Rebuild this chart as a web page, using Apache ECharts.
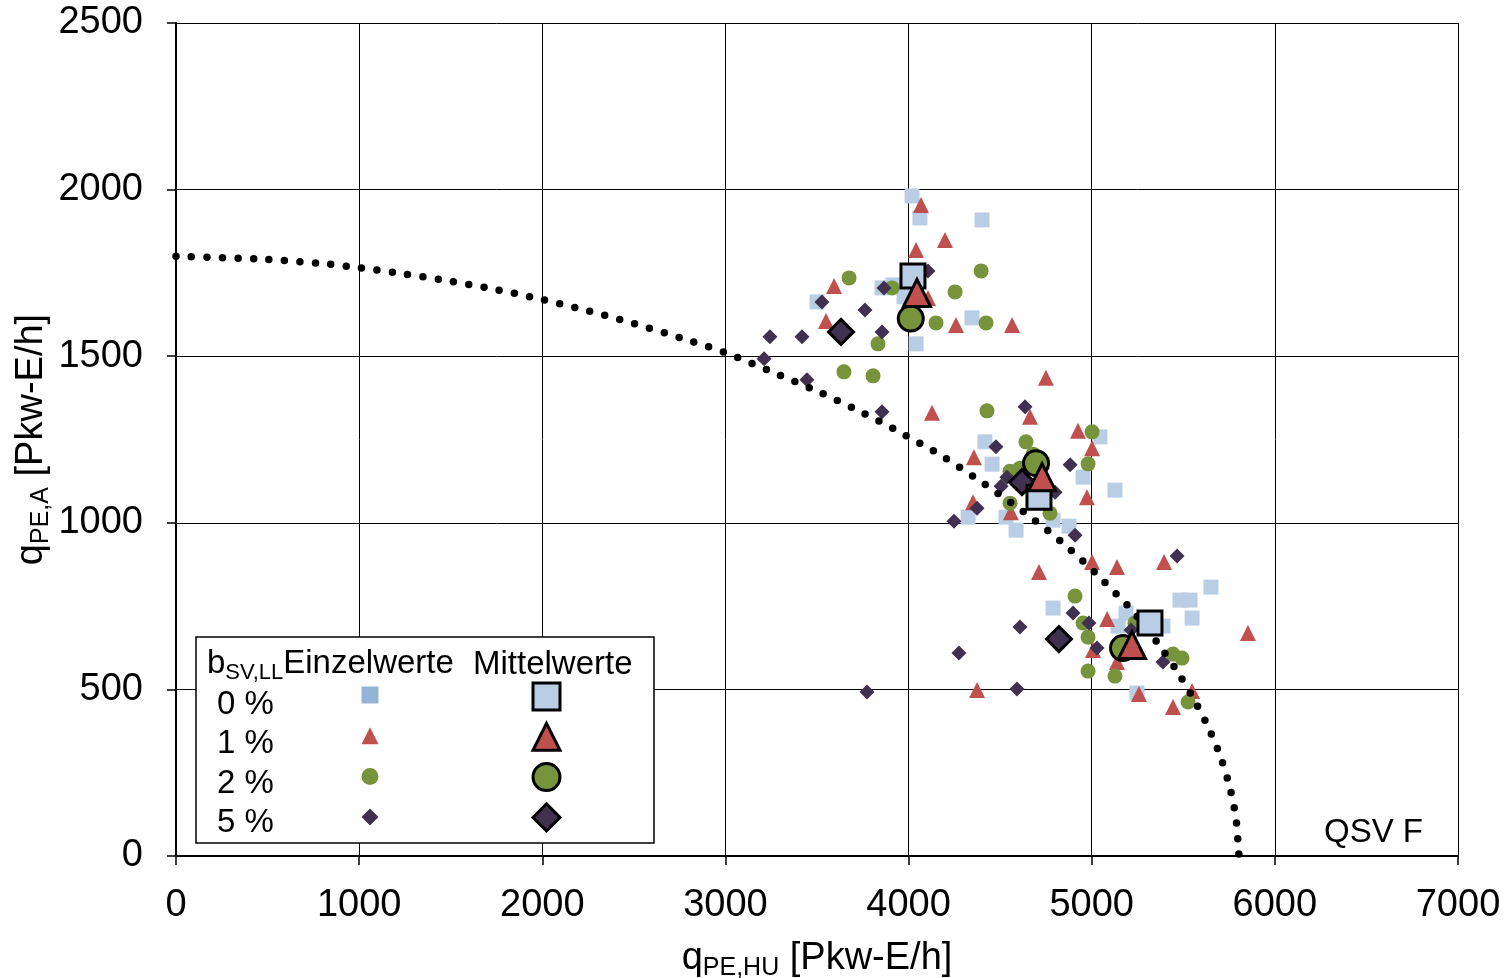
<!DOCTYPE html>
<html>
<head>
<meta charset="utf-8">
<script src="https://cdn.jsdelivr.net/npm/echarts@6/dist/echarts.min.js"></script>
<style>html,body{margin:0;padding:0;background:#fff}#c{width:1505px;height:978px}</style>
</head>
<body>
<div id="c"></div>
<script>
// ---- data ----
const xTicks = [0, 1000, 2000, 3000, 4000, 5000, 6000, 7000];
const yTicks = [0, 500, 1000, 1500, 2000, 2500];
const groupLabels = ['0 %', '1 %', '2 %', '5 %'];

const einzel0 = [[4019,1981],[4062,1915],[4401,1909],[3500,1663],[3855,1705],[3915,1714],[3975,1678],[4346,1615],[4041,1537],
  [5045,1258],[4417,1243],[4456,1176],[4953,1137],[5127,1098],[4325,1017],[4532,1017],[4587,978],[4789,1008],[4876,990],
  [5651,807],[5482,768],[5537,768],[5548,714],[4789,744],[5187,729],[5144,690],[5389,690],[5247,489]];
const einzel1 = [[4068,1954],[4199,1849],[4041,1819],[3593,1711],[3549,1606],[4259,1594],[4565,1594],[4106,1675],[4750,1435],[4128,1330],[4663,1318],
  [4925,1276],[5002,1224],[4357,1197],[4974,1077],[4352,1062],[4559,1032],
  [5002,882],[5138,867],[5395,882],[4712,852],[5084,711],[5853,669],[5007,618],[5138,582],[4374,498],[5258,486],[5548,495],[5444,447]];
const einzel2 = [[3675,1735],[3910,1705],[4396,1756],[4254,1693],[4150,1600],[4423,1600],[3833,1537],[3647,1453],[3806,1441],[4428,1336],
  [5002,1273],[4641,1243],[4980,1177],[4554,1155],[4608,1164],[4680,1206],[4554,1059],[4772,1029],
  [4909,780],[4953,699],[4980,657],[5236,699],[5444,606],[5493,594],[4980,555],[5127,540],[5526,462]];
const einzel5 = [[4106,1756],[3866,1705],[3527,1663],[3762,1639],[3855,1573],[3243,1558],[3418,1558],[3211,1492],[3445,1429],[3855,1333],[4636,1348],
  [4477,1228],[4882,1174],[4537,1137],[4505,1110],[4800,1092],[4374,1044],[4248,1005],[4909,963],
  [5466,900],[4898,729],[4985,699],[4608,687],[5215,678],[5029,624],[5389,582],[4275,609],[4592,501],[3773,492]];

const mittel0 = [[4024,1741],[4712,1077],[5318,699]];
const mittel1 = [[4046,1690],[4729,1137],[5220,633]];
const mittel2 = [[4012,1613],[4696,1179],[5171,624]];
const mittel5 = [[3631,1573],[4619,1122],[4821,651]];

const kurve = [[0,1800],[435,1792],[784,1779],[961,1768],[1221,1749],[1479,1727],[1739,1701],[1993,1671],[2251,1636],[2504,1597],
  [2754,1555],[3003,1510],[3249,1454],[3493,1397],[3729,1336],[3962,1269],[4190,1198],[4410,1118],[4623,1035],[4830,945],
  [5023,848],[5145,780],[5206,746],[5264,708],[5318,669],[5370,632],[5468,553],[5555,473],[5637,386],[5704,296],[5755,204],
  [5788,111],[5802,15],[5804,0]];

// ---- styling ----
const FONT = 'Liberation Sans, Arial, sans-serif';
const C0 = '#b9cde5', C0L = '#95b3d7', C1 = '#c0504d', C2 = '#77933c', C5 = '#403151';

const chart = echarts.init(document.getElementById('c'), null, {renderer: 'canvas'});

function einzelSeries(name, data, symbol, color, size, z) {
  return {name, type: 'scatter', data, symbol, symbolSize: size, z,
    itemStyle: {color, opacity: 1}, emphasis: {disabled: true}, animation: false};
}
function mittelSeries(name, data, symbol, color, size, z) {
  return {name, type: 'scatter', data, symbol, symbolSize: size, z,
    itemStyle: {color, borderColor: '#000', borderWidth: 3, opacity: 1}, emphasis: {disabled: true}, animation: false};
}

const option = {
  backgroundColor: '#fff',
  animation: false,
  grid: {left: 176, right: 47, top: 23, bottom: 122, containLabel: false, outerBoundsMode: 'none'},
  xAxis: {
    type: 'value', min: xTicks[0], max: xTicks[xTicks.length - 1], interval: 1000,
    name: '{a|q}{s|PE,HU}{a| [Pkw-E/h]}', nameLocation: 'middle', nameGap: 81, nameMoveOverlap: false,
    nameTextStyle: {rich: {
      a: {fontFamily: FONT, fontSize: 38, color: '#000', lineHeight: 44},
      s: {fontFamily: FONT, fontSize: 25, color: '#000', lineHeight: 23, verticalAlign: 'bottom'}}},
    axisLine: {show: true, onZero: false, lineStyle: {color: '#000', width: 2}},
    axisTick: {show: true, length: 9, lineStyle: {color: '#000', width: 1.5}},
    axisLabel: {fontFamily: FONT, fontSize: 38, color: '#000', margin: 31, formatter: v => String(v)},
    splitLine: {show: true, lineStyle: {color: '#000', width: 1}}
  },
  yAxis: {
    type: 'value', min: yTicks[0], max: yTicks[yTicks.length - 1], interval: 500,
    name: '{a|q}{s|PE,A}{a| [Pkw-E/h]}', nameLocation: 'middle', nameGap: 122, nameRotate: 90, nameMoveOverlap: false,
    nameTextStyle: {rich: {
      a: {fontFamily: FONT, fontSize: 38, color: '#000', lineHeight: 44},
      s: {fontFamily: FONT, fontSize: 25, color: '#000', lineHeight: 23, verticalAlign: 'bottom'}}},
    axisLine: {show: true, onZero: false, lineStyle: {color: '#000', width: 2}},
    axisTick: {show: true, length: 9, lineStyle: {color: '#000', width: 1.5}},
    axisLabel: {fontFamily: FONT, fontSize: 38, color: '#000', margin: 33, formatter: v => String(v)},
    splitLine: {show: true, lineStyle: {color: '#000', width: 1}}
  },
  legend: [
    {
      data: [{name: groupLabels[0], itemStyle: {color: C0L}}, groupLabels[1], groupLabels[2], groupLabels[3]],
      orient: 'vertical', left: 356.5, top: 681.5, padding: 5,
      itemWidth: 17, itemHeight: 17, itemGap: 23.7,
      formatter: () => '', selectedMode: false, z: 6,
      textStyle: {fontSize: 1}
    },
    {
      data: ['M ' + groupLabels[0], 'M ' + groupLabels[1], 'M ' + groupLabels[2], 'M ' + groupLabels[3]],
      orient: 'vertical', left: 526.5, top: 676.5, padding: 5,
      itemWidth: 27, itemHeight: 27, itemGap: 10.3,
      formatter: () => '', selectedMode: false, z: 6,
      itemStyle: {borderWidth: 3, borderColor: '#000'},
      textStyle: {fontSize: 1}
    }
  ],
  graphic: [
    {type: 'rect', z: 5, shape: {x: 196, y: 637, width: 458, height: 206},
      style: {fill: '#fff', stroke: '#000', lineWidth: 1.5}},
    {type: 'text', z: 7, left: 207, top: 647,
      style: {text: '{a|b}{s|SV,LL}{a|Einzelwerte}', rich: {
        a: {fontFamily: FONT, fontSize: 33, fill: '#000', lineHeight: 40},
        s: {fontFamily: FONT, fontSize: 22, fill: '#000', lineHeight: 20, verticalAlign: 'bottom'}}}},
    {type: 'text', z: 7, left: 473, top: 648,
      style: {text: 'Mittelwerte', fontFamily: FONT, fontSize: 33, fill: '#000'}},
    {type: 'text', z: 7, left: 217, top: 688, style: {text: groupLabels[0], fontFamily: FONT, fontSize: 33, fill: '#000'}},
    {type: 'text', z: 7, left: 217, top: 727, style: {text: groupLabels[1], fontFamily: FONT, fontSize: 33, fill: '#000'}},
    {type: 'text', z: 7, left: 217, top: 767, style: {text: groupLabels[2], fontFamily: FONT, fontSize: 33, fill: '#000'}},
    {type: 'text', z: 7, left: 217, top: 806, style: {text: groupLabels[3], fontFamily: FONT, fontSize: 33, fill: '#000'}},
    {type: 'text', z: 7, right: 82, top: 816, style: {text: 'QSV F', fontFamily: FONT, fontSize: 33, fill: '#000'}}
  ],
  series: [
    einzelSeries(groupLabels[0], einzel0, 'rect', C0, 15, 2),
    einzelSeries(groupLabels[1], einzel1, 'triangle', C1, 16, 2),
    einzelSeries(groupLabels[2], einzel2, 'circle', C2, 15, 2),
    einzelSeries(groupLabels[3], einzel5, 'diamond', C5, 15, 2),
    {name: 'Grenzkurve', type: 'line', data: kurve, smooth: 0.3, showSymbol: false, symbol: 'none', z: 3,
      lineStyle: {color: '#000', width: 7.5, type: [0, 15.5], cap: 'round'}, emphasis: {disabled: true}, animation: false},
    mittelSeries('M ' + groupLabels[2], mittel2, 'circle', C2, 25, 4),
    mittelSeries('M ' + groupLabels[3], mittel5, 'diamond', C5, 25, 4),
    mittelSeries('M ' + groupLabels[0], mittel0, 'rect', C0, 24, 4),
    mittelSeries('M ' + groupLabels[1], mittel1, 'triangle', C1, 27, 4)
  ]
};
chart.setOption(option);
</script>
</body>
</html>
